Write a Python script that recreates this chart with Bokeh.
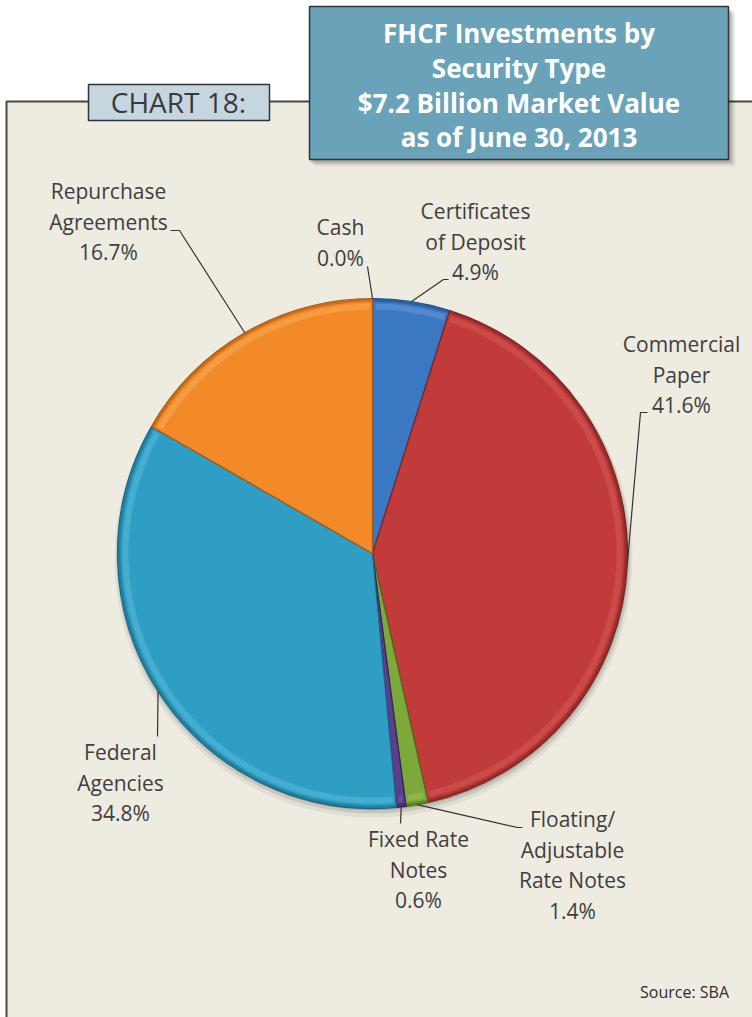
import math
from bokeh.plotting import figure
from bokeh.models import Range1d
from bokeh.core.properties import value
from bokeh.embed import file_html
from bokeh.resources import INLINE

W, H = 752, 1017

# --- data -------------------------------------------------------------
categories = [
    "Cash",
    "Certificates of Deposit",
    "Commercial Paper",
    "Floating/Adjustable Rate Notes",
    "Fixed Rate Notes",
    "Federal Agencies",
    "Repurchase Agreements",
]
shares = [0.0, 4.9, 41.6, 1.4, 0.6, 34.8, 16.7]
label_words = [
    ["Cash"],
    ["Certificates", "of Deposit"],
    ["Commercial", "Paper"],
    ["Floating/", "Adjustable", "Rate Notes"],
    ["Fixed Rate", "Notes"],
    ["Federal", "Agencies"],
    ["Repurchase", "Agreements"],
]
title_lines = [
    "FHCF Investments by",
    "Security Type",
    "$7.2 Billion Market Value",
    "as of June 30, 2013",
]
chart_tag = "CHART 18:"
source_note = "Source: SBA"

# --- styling ----------------------------------------------------------
fills = ["#3B78C3", "#3B78C3", "#C03B3A", "#7DA83A", "#5C3D8E", "#2F9EC5", "#F28A28"]
edges = ["#1F4F8A", "#1F4F8A", "#7E2222", "#4C6D1E", "#35205A", "#1B6784", "#A85A12"]
glints = ["#7DAAE6", "#7DAAE6", "#E06A66", "#A9CF6A", "#8A6CC0", "#6FC8E6", "#FFBE6E"]

# label centre x, first baseline (page pixels, y down) and leader elbow points
label_pos = [
    (340, 235),
    (475, 219),
    (681, 352),
    (572, 827),
    (418, 847),
    (120, 760),
    (108, 199),
]
leader_pts = [
    [(367, 266)],
    [(448, 279), (443, 279)],
    [(647, 412), (640, 412)],
    [(522, 827), (517, 827)],
    [(400, 823)],
    [(157, 736)],
    [(170, 230), (179, 230)],
]
LINE_GAP = 30.5

CX, CY, R = 372, 553, 255


def F(y):
    """page y (down) -> data y (up)"""
    return H - y


def TB(y, size):
    """baseline in page pixels -> data y for a text glyph of the given px size"""
    return H - y + 0.4 * size


p = figure(width=W, height=H, x_range=Range1d(0, W), y_range=Range1d(0, H),
           output_backend="svg", toolbar_location=None, min_border=0)
p.xaxis.visible = False
p.yaxis.visible = False
p.xgrid.visible = False
p.ygrid.visible = False
p.outline_line_color = None
p.background_fill_color = "white"
p.border_fill_color = "white"

# panel
p.quad(left=[6], right=[W + 10], top=[F(101)], bottom=[-10],
       fill_color="#EEEBE1", line_color="#474747", line_width=2)

# chart tag
p.quad(left=[88], right=[269], top=[F(84)], bottom=[F(120)],
       fill_color="#C6D6E1", line_color="#333333", line_width=1.5)
p.text(x=[178], y=[TB(113, 28)], text=[chart_tag], text_align="center",
       text_baseline="alphabetic", text_font=value("Open Sans"),
       text_font_size="28px", text_color="#3A3A3A")

# title box with soft shadow
for off, a in [(7, 0.06), (5, 0.10), (3, 0.14)]:
    p.quad(left=[309 + off - 2], right=[728 + off], top=[F(6 + off)], bottom=[F(159 + off)],
           fill_color="black", fill_alpha=a, line_color=None)
p.quad(left=[309], right=[728], top=[F(6)], bottom=[F(159)],
       fill_color="#6AA3B9", line_color="#333333", line_width=1.5)
for i, t in enumerate(title_lines):
    p.text(x=[518.5], y=[TB(43 + 34.7 * i, 26)], text=[t], text_align="center",
           text_baseline="alphabetic", text_font=value("Open Sans"),
           text_font_size="26px", text_font_style="bold", text_color="white")

# pie shadow
for off, extra, a in [(5, 4, 0.06), (3, 2, 0.10), (2, 0, 0.14)]:
    p.circle(x=[CX + 1], y=[F(CY + off)], radius=R + extra,
             fill_color="black", fill_alpha=a, line_color=None)

# pie slices, clockwise from 12 o'clock
total = sum(shares)
cum = 0.0
mids = []
for i, s in enumerate(shares):
    a = cum / total
    b = (cum + s) / total
    cum += s
    mids.append((a + b) / 2)
    if s <= 0:
        continue
    start = math.pi / 2 - 2 * math.pi * b
    end = math.pi / 2 - 2 * math.pi * a
    p.wedge(x=[CX], y=[F(CY)], radius=R, start_angle=start, end_angle=end,
            fill_color=fills[i], line_color=edges[i], line_width=1.2)
    # darker rim and light bevel
    p.annular_wedge(x=[CX], y=[F(CY)], inner_radius=R - 3, outer_radius=R,
                    start_angle=start, end_angle=end,
                    fill_color=edges[i], fill_alpha=0.55, line_color=None)
    p.annular_wedge(x=[CX], y=[F(CY)], inner_radius=R - 11, outer_radius=R - 5,
                    start_angle=start + 0.012, end_angle=end - 0.012,
                    fill_color=glints[i], fill_alpha=0.35, line_color=None)

# leader lines: elbow points -> slice rim at its mid angle
xs, ys = [], []
for pts, m in zip(leader_pts, mids):
    th = 2 * math.pi * m
    rx = CX + R * math.sin(th)
    ry = CY - R * math.cos(th)
    px = [q[0] for q in pts] + [rx]
    py = [F(q[1]) for q in pts] + [F(ry)]
    xs.append(px)
    ys.append(py)
p.multi_line(xs=xs, ys=ys, line_color="#333333", line_width=1.2)

# labels
for words, s, (lx, ly) in zip(label_words, shares, label_pos):
    lines = words + [f"{s:.1f}%"]
    p.text(x=[lx] * len(lines), y=[TB(ly + LINE_GAP * k, 21) for k in range(len(lines))],
           text=lines, text_align="center", text_baseline="alphabetic",
           text_font=value("Open Sans"), text_font_size="21px", text_color="#3E3E3E")

p.text(x=[684], y=[TB(998, 16)], text=[source_note], text_align="center",
       text_baseline="alphabetic", text_font=value("Open Sans"),
       text_font_size="16px", text_color="#2E2E2E")

open("out.html", "w").write(file_html(p, INLINE))
